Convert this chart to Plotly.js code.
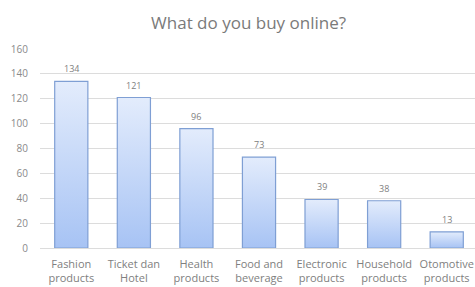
<!DOCTYPE html>
<html><head><meta charset="utf-8">
<script src="https://cdn.plot.ly/plotly-3.0.1.min.js"></script>
<style>html,body{margin:0;padding:0;overflow:hidden;background:#fff}#chart{width:478px;height:287px}</style>
</head><body><div id="chart"></div>
<script>
const categories = ["Fashion<br>products","Ticket dan<br>Hotel","Health<br>products","Food and<br>beverage","Electronic<br>products","Household<br>products","Otomotive<br>products"];
const values = [134,121,96,73,39,38,13];
const yTicks = [0,20,40,60,80,100,120,140,160];

const FONT = "'Open Sans', sans-serif";
const trace = {
  type: 'bar', x: categories, y: values,
  marker: {color: '#c3d6f8', line: {color: '#7f9fd4', width: 1.2}},
  hoverinfo: 'none'
};
const annotations = categories.map(function(c, i){
  return {x: c, y: values[i], text: String(values[i]), showarrow: false, yanchor: 'bottom', yshift: 4,
    font: {family: FONT, size: 9, color: '#808080'}};
});
const layout = {
  width: 478, height: 287,
  margin: {l: 40, r: 0, t: 49, b: 39},
  paper_bgcolor: '#fff', plot_bgcolor: '#fff',
  title: {text: 'What do you buy online?', x: 0.52, xanchor: 'center', y: 0.92, yanchor: 'middle',
    font: {family: FONT, size: 17, color: '#7a7a7a'}},
  bargap: 0.47,
  showlegend: false,
  annotations: annotations,
  xaxis: {tickfont: {family: FONT, size: 11, color: '#808080'}, showgrid: false, showline: false, ticks: '', ticklabelstandoff: 8, fixedrange: true},
  yaxis: {range: [0,160], tickvals: yTicks, ticktext: yTicks.map(String), showgrid: true, gridcolor: '#dcdcdc', gridwidth: 1,
    zeroline: true, zerolinecolor: '#dcdcdc', showline: false, ticks: '', ticklabelstandoff: 11,
    tickfont: {family: FONT, size: 10, color: '#8a8a8a'}, fixedrange: true}
};
Plotly.newPlot('chart', [trace], layout, {displayModeBar: false, staticPlot: true}).then(function(gd){
  const svg = gd.querySelector('svg.main-svg');
  const ns = 'http://www.w3.org/2000/svg';
  let defs = svg.querySelector('defs');
  const lg = document.createElementNS(ns, 'linearGradient');
  lg.setAttribute('id', 'barGrad'); lg.setAttribute('x1','0'); lg.setAttribute('y1','0'); lg.setAttribute('x2','0'); lg.setAttribute('y2','1');
  [['0%','#e3ecfc'],['100%','#a7c3f4']].forEach(function(s){
    const st = document.createElementNS(ns,'stop'); st.setAttribute('offset', s[0]); st.setAttribute('stop-color', s[1]); lg.appendChild(st);
  });
  defs.appendChild(lg);
  gd.querySelectorAll('.bars .point path').forEach(function(p){ p.style.fill = 'url(#barGrad)'; });
});
</script></body></html>
